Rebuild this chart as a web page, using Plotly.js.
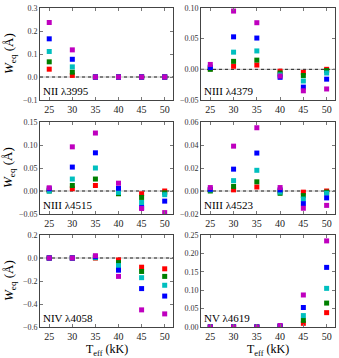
<!DOCTYPE html>
<html>
<head>
<meta charset="utf-8">
<script src="https://cdn.plot.ly/plotly-3.0.1.min.js"></script>
<style>
html, body { margin: 0; padding: 0; background: #fff; }
#chart { width: 339px; height: 358px; }
</style>
</head>
<body>
<div id="chart"></div>
<script>
var teff = [25, 30, 35, 40, 45, 50];
var seriesColors = ['#ff0000', '#008000', '#00bfbf', '#0000ff', '#bf00bf'];

// rows: red, green, cyan, blue, magenta
var nii3995 = [
    [0.034, 0.007, 0, 0, 0, 0],
    [0.066, 0.021, 0, 0, 0, 0],
    [0.111, 0.044, 0, 0, 0, 0],
    [0.166, 0.077, 0, 0, 0, 0],
    [0.237, 0.118, 0, 0, 0, 0]
];
var niii4379 = [
    [0.001, 0.005, 0.007, -0.003, -0.005, 0.000],
    [0.000, 0.013, 0.015, -0.006, -0.010, -0.002],
    [0.004, 0.028, 0.030, -0.009, -0.019, -0.006],
    [0.003, 0.053, 0.051, -0.013, -0.029, -0.016],
    [0.008, 0.095, 0.076, -0.011, -0.035, -0.032]
];
var niii4515 = [
    [0.002, 0.005, 0.012, -0.004, -0.006, 0.000],
    [0.000, 0.012, 0.026, -0.006, -0.014, -0.004],
    [0.000, 0.026, 0.050, -0.003, -0.025, -0.008],
    [0.005, 0.052, 0.083, 0.006, -0.036, -0.022],
    [0.007, 0.096, 0.126, 0.017, -0.038, -0.047]
];
var niii4523 = [
    [0.001, 0.001, 0.0035, 0.000, -0.001, 0.000],
    [0.000, 0.004, 0.008, -0.002, -0.004, -0.001],
    [0.001, 0.009, 0.018, -0.001, -0.007, -0.002],
    [0.0015, 0.019, 0.033, 0.001, -0.011, -0.006],
    [0.003, 0.039, 0.055, 0.003, -0.015, -0.0125]
];
var niv4058 = [
    [0, 0, 0.000, -0.017, -0.080, -0.094],
    [0, 0, 0.003, -0.040, -0.117, -0.160],
    [0, 0, 0.006, -0.066, -0.171, -0.237],
    [0, 0, 0.012, -0.106, -0.266, -0.331],
    [0, 0, 0.020, -0.160, -0.451, -0.486]
];
var nv4619 = [
    [0, 0, 0, 0.001, 0.010, 0.039],
    [0, 0, 0, 0.001, 0.018, 0.065],
    [0, 0, 0, 0.002, 0.031, 0.105],
    [0, 0, 0, 0.003, 0.053, 0.162],
    [0, 0, 0, 0.004, 0.087, 0.234]
];

var panelData = [nii3995, niii4379, niii4515, niii4523, niv4058, nv4619];
var panelLabels = ['NII λ3995', 'NIII λ4379', 'NIII λ4515', 'NIII λ4523', 'NIV λ4058', 'NV λ4619'];
var yRanges = [[-0.1, 0.3], [-0.05, 0.10], [-0.05, 0.15], [-0.02, 0.06], [-0.6, 0.2], [0, 0.25]];
var yDticks = [0.1, 0.05, 0.05, 0.02, 0.2, 0.05];
var yFormats = ['.1f', '.2f', '.2f', '.2f', '.1f', '.2f'];

var W = 339, H = 358;
var colPx = [[40, 173], [201, 335]];
var rowPx = [[8, 100], [122, 214], [235, 327]];
var serif = 'Liberation Serif, Times New Roman, serif';

var traces = [];
var layout = {
    width: W,
    height: H,
    margin: { l: 0, r: 0, t: 0, b: 0 },
    paper_bgcolor: '#fff',
    plot_bgcolor: '#fff',
    showlegend: false,
    font: { family: serif, color: '#000' },
    shapes: [],
    annotations: []
};

for (var p = 0; p < 6; p++) {
    var n = p + 1;
    var col = p % 2, row = Math.floor(p / 2);
    var xa = n == 1 ? 'x' : 'x' + n;
    var ya = n == 1 ? 'y' : 'y' + n;

    for (var s = 0; s < 5; s++) {
        traces.push({
            x: teff,
            y: panelData[p][s],
            xaxis: xa,
            yaxis: ya,
            type: 'scatter',
            mode: 'markers',
            marker: { symbol: 'square', size: 5, color: seriesColors[s] },
            hoverinfo: 'x+y'
        });
    }

    var common = {
        showgrid: false,
        zeroline: false,
        showline: true,
        mirror: 'ticks',
        linecolor: '#444',
        linewidth: 1,
        ticks: 'inside',
        ticklen: 3,
        tickcolor: '#777'
    };
    layout['xaxis' + (n == 1 ? '' : n)] = Object.assign({}, common, {
        domain: [colPx[col][0] / W, colPx[col][1] / W],
        anchor: ya,
        range: [23, 51.8],
        tickvals: teff,
        tickfont: { family: serif, size: 10, color: '#222' }
    });
    layout['yaxis' + (n == 1 ? '' : n)] = Object.assign({}, common, {
        domain: [1 - rowPx[row][1] / H, 1 - rowPx[row][0] / H],
        anchor: xa,
        range: yRanges[p],
        dtick: yDticks[p],
        tick0: 0,
        tickformat: yFormats[p],
        tickfont: { family: serif, size: 8, color: '#333' }
    });

    if (p < 5) {
        layout.shapes.push({
            type: 'line', xref: xa + ' domain', yref: ya,
            x0: 0, x1: 1, y0: 0, y1: 0,
            line: { color: '#bbb', width: 1 }, layer: 'below'
        });
        layout.shapes.push({
            type: 'line', xref: xa + ' domain', yref: ya,
            x0: 0, x1: 1, y0: 0, y1: 0,
            line: { color: '#222', width: 1, dash: 'dot' }, layer: 'below'
        });
    }

    layout.annotations.push({
        text: panelLabels[p],
        xref: xa + ' domain', yref: ya + ' domain',
        x: 0.01, y: 0.01, xanchor: 'left', yanchor: 'bottom',
        showarrow: false,
        font: { family: serif, size: 11, color: '#000' }
    });

    if (col == 0) {
        layout.annotations.push({
            text: '<i>W</i><sub>eq</sub> (Å)',
            xref: 'paper', yref: 'paper',
            x: 9 / W, y: 1 - (rowPx[row][0] + rowPx[row][1]) / 2 / H,
            xanchor: 'center', yanchor: 'middle',
            textangle: -90, showarrow: false,
            font: { family: serif, size: 13, color: '#000' }
        });
    }
    if (row == 2) {
        layout.annotations.push({
            text: 'T<sub>eff</sub> (kK)',
            xref: 'paper', yref: 'paper',
            x: (colPx[col][0] + colPx[col][1]) / 2 / W, y: 0,
            xanchor: 'center', yanchor: 'bottom',
            borderpad: 0, yshift: -1,
            showarrow: false,
            font: { family: serif, size: 12, color: '#000' }
        });
    }
}

Plotly.newPlot('chart', traces, layout, { staticPlot: true });
</script>
</body>
</html>
